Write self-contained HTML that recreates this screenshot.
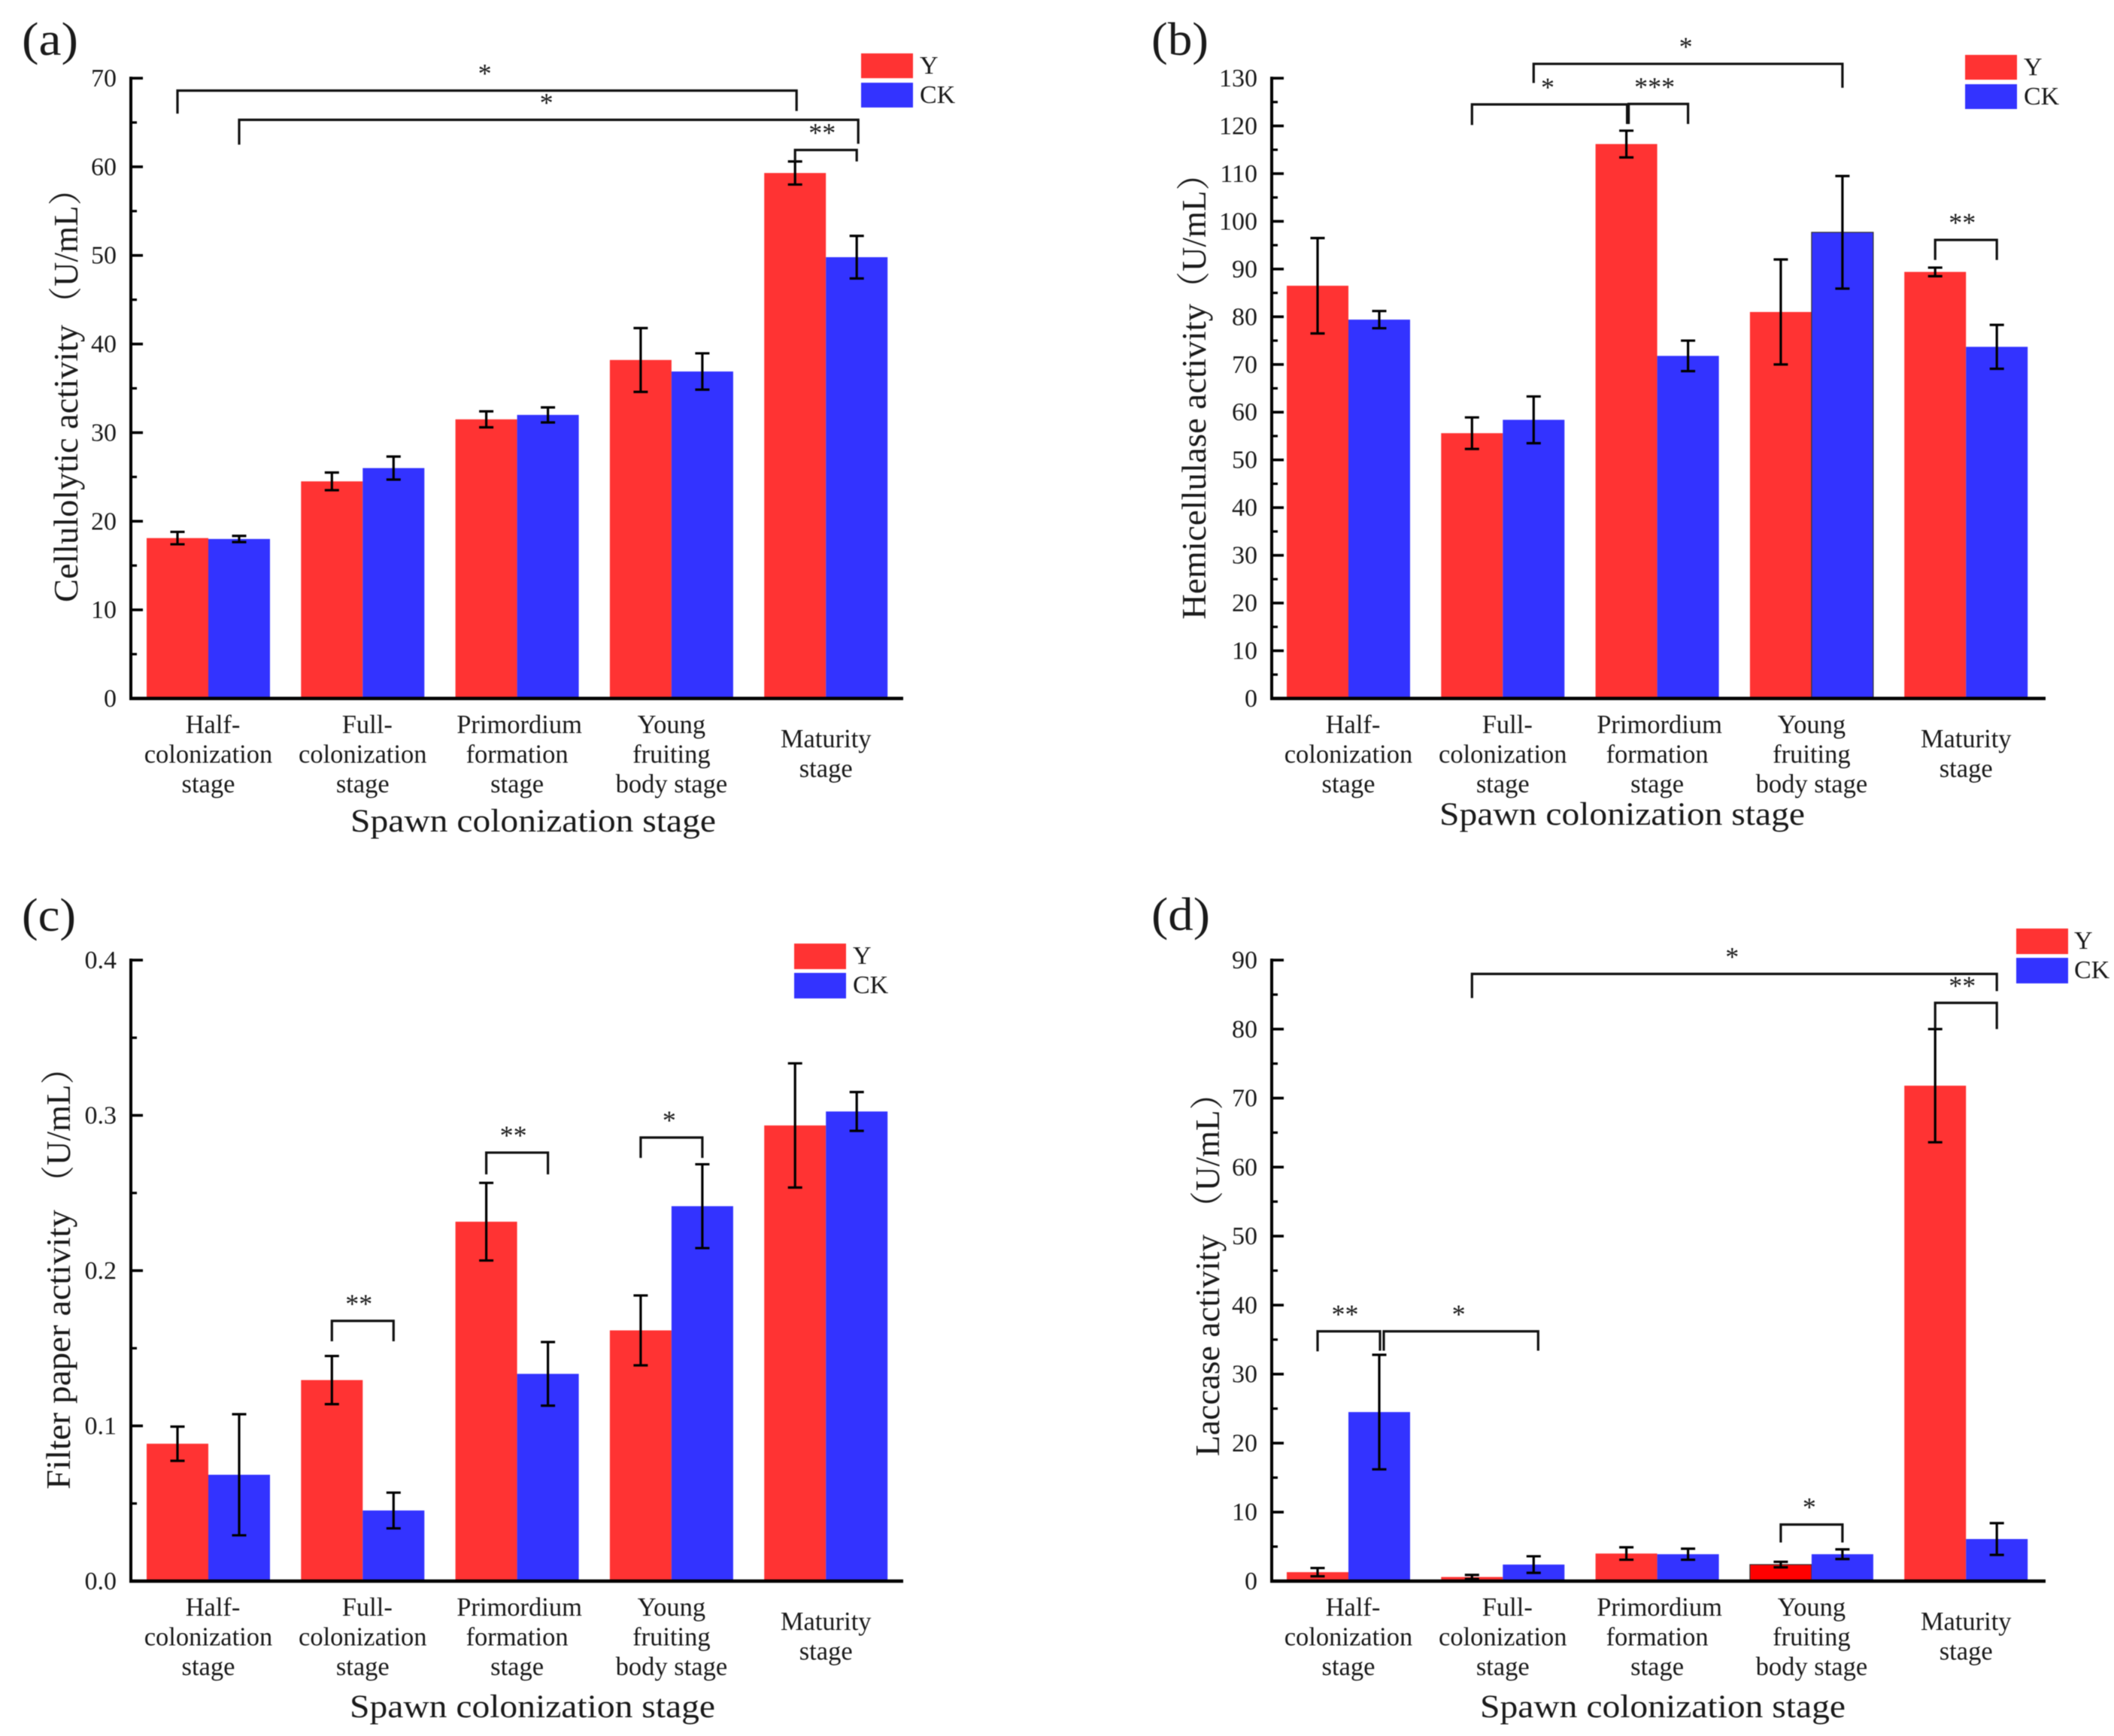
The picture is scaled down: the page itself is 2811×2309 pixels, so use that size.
<!DOCTYPE html>
<html lang="en">
<head>
<meta charset="utf-8">
<title>Enzyme activity across spawn colonization stages</title>
<style>
html,body{margin:0;padding:0;background:#fff;}
svg{display:block;filter:blur(0.55px);}
text{font-family:"Liberation Serif","Noto Serif CJK SC",serif;fill:#1a1a1a;}
.panel-letter{font-size:62px;}
.axis-title{font-size:43px;text-anchor:middle;}
.y-title{font-size:45px;text-anchor:start;}
.legend-label{font-size:34px;}
</style>
</head>
<body>
<svg id="figure" xmlns="http://www.w3.org/2000/svg" width="2811" height="2309" viewBox="0 0 2811 2309">
  <rect x="0" y="0" width="2811" height="2309" fill="#fff"/>

  <g id="panel-a">
    <text class="panel-letter" x="29" y="73" textLength="75" lengthAdjust="spacingAndGlyphs">(a)</text>
    <text class="y-title" transform="translate(103 801) rotate(-90)" textLength="369" lengthAdjust="spacingAndGlyphs">Cellulolytic activity</text>
    <text class="y-title" transform="translate(103 426) rotate(-90)">（U/mL）</text>
    <text class="axis-title" x="709" y="1106" textLength="486" lengthAdjust="spacingAndGlyphs">Spawn colonization stage</text>
    <g>
      <rect x="1145" y="71" width="69" height="33" fill="#ff3333"/>
      <rect x="1145" y="110" width="69" height="33" fill="#3333ff"/>
      <text class="legend-label" x="1223" y="98">Y</text>
      <text class="legend-label" x="1223" y="137">CK</text>
    </g>
  </g>

  <g id="panel-b">
    <text class="panel-letter" x="1531" y="73" textLength="76" lengthAdjust="spacingAndGlyphs">(b)</text>
    <text class="y-title" transform="translate(1603 824) rotate(-90)" textLength="420" lengthAdjust="spacingAndGlyphs">Hemicellulase activity</text>
    <text class="y-title" transform="translate(1603 406) rotate(-90)">（U/mL）</text>
    <text class="axis-title" x="2157" y="1097" textLength="486" lengthAdjust="spacingAndGlyphs">Spawn colonization stage</text>
    <g>
      <rect x="2613" y="73" width="69" height="33" fill="#ff3333"/>
      <rect x="2613" y="112" width="69" height="33" fill="#3333ff"/>
      <text class="legend-label" x="2691" y="100">Y</text>
      <text class="legend-label" x="2691" y="139">CK</text>
    </g>
  </g>

  <g id="panel-c">
    <text class="panel-letter" x="29" y="1238" textLength="72" lengthAdjust="spacingAndGlyphs">(c)</text>
    <text class="y-title" transform="translate(93 1981) rotate(-90)" textLength="372" lengthAdjust="spacingAndGlyphs">Filter paper activity</text>
    <text class="y-title" transform="translate(93 1595) rotate(-90)">（U/mL）</text>
    <text class="axis-title" x="708" y="2284" textLength="486" lengthAdjust="spacingAndGlyphs">Spawn colonization stage</text>
    <g>
      <rect x="1056" y="1255" width="69" height="34" fill="#ff3333"/>
      <rect x="1056" y="1294" width="69" height="34" fill="#3333ff"/>
      <text class="legend-label" x="1134" y="1282">Y</text>
      <text class="legend-label" x="1134" y="1321">CK</text>
    </g>
  </g>

  <g id="panel-d">
    <text class="panel-letter" x="1531" y="1237" textLength="78" lengthAdjust="spacingAndGlyphs">(d)</text>
    <text class="y-title" transform="translate(1621 1937) rotate(-90)" textLength="295" lengthAdjust="spacingAndGlyphs">Laccase activity</text>
    <text class="y-title" transform="translate(1621 1629) rotate(-90)">（U/mL）</text>
    <text class="axis-title" x="2211" y="2284" textLength="486" lengthAdjust="spacingAndGlyphs">Spawn colonization stage</text>
    <g>
      <rect x="2681" y="1235" width="69" height="34" fill="#ff3333"/>
      <rect x="2681" y="1274" width="69" height="34" fill="#3333ff"/>
      <text class="legend-label" x="2758" y="1262">Y</text>
      <text class="legend-label" x="2758" y="1301">CK</text>
    </g>
  </g>
</svg>

<script>
const categories = [
  ['Half-', 'colonization', 'stage'],
  ['Full-', 'colonization', 'stage'],
  ['Primordium', 'formation', 'stage'],
  ['Young', 'fruiting', 'body stage'],
  ['Maturity', 'stage']
];

const cellulolyticTicks = ['0', '10', '20', '30', '40', '50', '60', '70'];
const cellulolyticY = [18.1, 24.5, 31.5, 38.2, 59.3];
const cellulolyticCK = [18.0, 26.0, 32.0, 36.9, 49.8];
const cellulolyticYErr = [0.7, 1.0, 0.9, 3.6, 1.3];
const cellulolyticCKErr = [0.35, 1.3, 0.85, 2.05, 2.4];

const hemicellulaseTicks = ['0', '10', '20', '30', '40', '50', '60', '70', '80', '90', '100', '110', '120', '130'];
const hemicellulaseY = [86.5, 55.6, 116.2, 81.0, 89.4];
const hemicellulaseCK = [79.4, 58.4, 71.8, 97.7, 73.7];
const hemicellulaseYErr = [10.0, 3.3, 2.8, 11.0, 0.9];
const hemicellulaseCKErr = [1.8, 4.9, 3.2, 11.8, 4.6];

const filterPaperTicks = ['0.0', '0.1', '0.2', '0.3', '0.4'];
const filterPaperY = [0.0885, 0.1295, 0.2315, 0.1615, 0.2935];
const filterPaperCK = [0.0685, 0.0455, 0.1335, 0.2415, 0.3025];
const filterPaperYErr = [0.011, 0.0155, 0.025, 0.0225, 0.04];
const filterPaperCKErr = [0.039, 0.0115, 0.0205, 0.027, 0.0125];

const laccaseTicks = ['0', '10', '20', '30', '40', '50', '60', '70', '80', '90'];
const laccaseY = [1.3, 0.6, 4.0, 2.4, 71.8];
const laccaseCK = [24.5, 2.4, 3.9, 3.9, 6.1];
const laccaseYErr = [0.6, 0.3, 0.9, 0.4, 8.2];
const laccaseCKErr = [8.3, 1.2, 0.8, 0.7, 2.3];

const SVG_NS = 'http://www.w3.org/2000/svg';
const BAR_W = 82;
const PITCH = 205.3;
const COLORS = ['#ff3333', '#3333ff'];

function shape(parent, tag, attrs) {
  const el = document.createElementNS(SVG_NS, tag);
  for (const k in attrs) el.setAttribute(k, attrs[k]);
  parent.appendChild(el);
  return el;
}

function makePanel(id, geom, ticks, yVals, ckVals, yErr, ckErr, edged) {
  const parent = document.getElementById(id);
  const max = parseFloat(ticks[ticks.length - 1]);
  const p = {
    parent: parent,
    geom: geom,
    ticks: ticks,
    edged: edged,
    series: [yVals, ckVals],
    errors: [yErr, ckErr],
    yScale: function (v) { return geom.base - (v / max) * (geom.base - geom.top); },
    xBand: function (group, series) { return geom.firstBar + group * PITCH + series * BAR_W; },
    xCenter: function (group, series) { return p.xBand(group, series) + BAR_W / 2; }
  };
  return p;
}

function drawBars(p) {
  p.series.forEach(function (vals, s) {
    vals.forEach(function (v, g) {
      const top = p.yScale(v);
      const isEdged = p.edged.group === g && p.edged.series === s;
      const rect = shape(p.parent, 'rect', {
        x: p.xBand(g, s), y: top, width: BAR_W, height: p.geom.base - top,
        fill: isEdged ? p.edged.fill : COLORS[s],
        stroke: isEdged ? '#333' : 'none',
        'stroke-width': isEdged ? 1.2 : 0
      });
      
      
      rect.setAttribute('data-series', s === 0 ? 'Y' : 'CK');
    });
  });
}

function drawErrors(p) {
  p.series.forEach(function (vals, s) {
    vals.forEach(function (v, g) {
      const e = p.errors[s][g];
      const cx = p.xCenter(g, s);
      const hi = p.yScale(v + e);
      const lo = p.yScale(v - e);
      const d = 'M' + cx + ' ' + hi + 'V' + lo +
        'M' + (cx - 9.5) + ' ' + hi + 'H' + (cx + 9.5) +
        'M' + (cx - 9.5) + ' ' + lo + 'H' + (cx + 9.5);
      const err = shape(p.parent, 'path', { d: d, fill: 'none', stroke: '#000', 'stroke-width': 3.2 });
      
      
    });
  });
}

function drawAxes(p) {
  const g = p.geom;
  const yAxis = shape(p.parent, 'line', { x1: g.axisX, x2: g.axisX, y1: g.top - 2, y2: g.base + 2, stroke: '#000', 'stroke-width': 4 });
  
  
  const xAxis = shape(p.parent, 'line', { x1: g.axisX - 2, x2: g.xEnd, y1: g.base, y2: g.base, stroke: '#000', 'stroke-width': 4.5 });
  
  

  p.ticks.forEach(function (label, i) {
    const v = parseFloat(label);
    const y = p.yScale(v);
    const tick = shape(p.parent, 'line', { x1: g.axisX, x2: g.axisX + 16, y1: y, y2: y, stroke: '#000', 'stroke-width': 3.6 });
    
    
    const txt = shape(p.parent, 'text', { x: g.axisX - 19, y: y + 11, 'text-anchor': 'end', 'font-size': 34 });
    txt.textContent = label;
    
    
    if (i < p.ticks.length - 1) {
      const ym = p.yScale((v + parseFloat(p.ticks[i + 1])) / 2);
      const minor = shape(p.parent, 'line', { x1: g.axisX, x2: g.axisX + 8, y1: ym, y2: ym, stroke: '#000', 'stroke-width': 3.2 });
      
      
    }
  });

  categories.forEach(function (lines, c) {
    const cx = p.xBand(c, 1);
    const first = g.base + (lines.length === 3 ? 46 : 65);
    lines.forEach(function (line, i) {
      let dx = 0;
      if (line.charAt(line.length - 1) === '-') dx = 6;
      if (line === 'Primordium') dx = 3;
      const t = shape(p.parent, 'text', { x: cx + dx, y: first + i * 39.5, 'text-anchor': 'middle', 'font-size': 34.5 });
      t.textContent = line;
      
      
    });
  });
}

/* A significance bracket: ends given as [group, series, pixel nudge], heights as axis values. */
function bracket(p, from, to, level, leftEnd, rightEnd, stars, opts) {
  const o = opts || {};
  const x1 = p.xCenter(from[0], from[1]) + (from[2] || 0);
  const x2 = p.xCenter(to[0], to[1]) + (to[2] || 0);
  const y = p.yScale(level);
  const d = 'M' + x1 + ' ' + p.yScale(leftEnd) + 'V' + y + 'H' + x2 + 'V' + p.yScale(rightEnd);
  const path = shape(p.parent, 'path', { d: d, fill: 'none', stroke: '#111', 'stroke-width': 3.2 });
  
  
  if (stars) {
    const nudge = o.dx !== undefined ? o.dx : (stars.length > 1 ? -5 : -3);
    const t = shape(p.parent, 'text', { x: (x1 + x2) / 2 + nudge, y: y - 28 + 17, 'text-anchor': 'middle', 'font-size': 36 });
    t.textContent = stars;
    
    
  }
}

const panelA = makePanel('panel-a', { axisX: 174, base: 929, top: 104, firstBar: 195, xEnd: 1201 },
  cellulolyticTicks, cellulolyticY, cellulolyticCK, cellulolyticYErr, cellulolyticCKErr, { group: -1, series: -1, fill: '' });
const panelB = makePanel('panel-b', { axisX: 1691, base: 929, top: 104, firstBar: 1711, xEnd: 2720 },
  hemicellulaseTicks, hemicellulaseY, hemicellulaseCK, hemicellulaseYErr, hemicellulaseCKErr, { group: 3, series: 1, fill: '#3333ff' });
const panelC = makePanel('panel-c', { axisX: 174, base: 2103, top: 1277, firstBar: 195, xEnd: 1201 },
  filterPaperTicks, filterPaperY, filterPaperCK, filterPaperYErr, filterPaperCKErr, { group: -1, series: -1, fill: '' });
const panelD = makePanel('panel-d', { axisX: 1691, base: 2103, top: 1277, firstBar: 1711, xEnd: 2720 },
  laccaseTicks, laccaseY, laccaseCK, laccaseYErr, laccaseCKErr, { group: 3, series: 0, fill: '#ff0000' });

[panelA, panelB, panelC, panelD].forEach(function (p) {
  drawBars(p);
  drawAxes(p);
  drawErrors(p);
});

bracket(panelA, [0, 0], [4, 0, 2], 68.6, 66, 66.3, '*');
bracket(panelA, [0, 1], [4, 1, 2], 65.3, 62.5, 62.6, '*');
bracket(panelA, [4, 0], [4, 1], 61.9, 60.6, 60.6, '**');

bracket(panelB, [1, 1], [3, 1], 133, 129, 128, '*');
bracket(panelB, [1, 0], [2, 0, 2], 124.5, 120.2, 120.4, '*');
bracket(panelB, [2, 0, 3], [2, 1], 124.6, 120.4, 120.4, '***');
bracket(panelB, [2, 0, 1], [2, 0, 1], 124.5, 120.4, 120.4, '');
bracket(panelB, [4, 0], [4, 1], 96.1, 91.9, 91.9, '**');

bracket(panelC, [1, 0], [1, 1], 0.1676, 0.1545, 0.1545, '**');
bracket(panelC, [2, 0], [2, 1], 0.276, 0.262, 0.262, '**');
bracket(panelC, [3, 0], [3, 1], 0.2857, 0.2726, 0.2726, '*');

bracket(panelD, [1, 0], [4, 1], 88.0, 84.5, 85.5, '*');
bracket(panelD, [4, 0], [4, 1], 83.8, 80, 80, '**');
bracket(panelD, [3, 0], [3, 1], 8.2, 5.6, 5.6, '*');
bracket(panelD, [0, 0], [0, 1, 1], 36.2, 33.3, 33.4, '**');
bracket(panelD, [0, 1, 6], [1, 1, 6], 36.2, 33.4, 33.4, '*');
</script>
</body>
</html>
